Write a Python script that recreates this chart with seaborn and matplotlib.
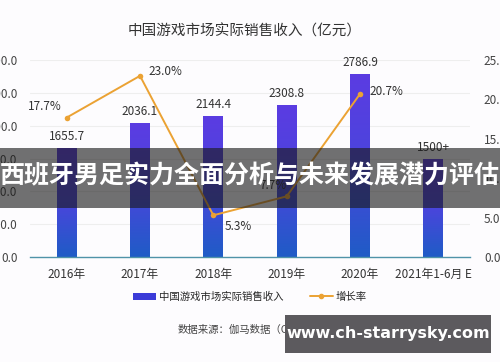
import numpy as np
import pandas as pd
import matplotlib
matplotlib.use("Agg")
import matplotlib.pyplot as plt
import seaborn as sns
from matplotlib.colors import LinearSegmentedColormap
from matplotlib.patches import Rectangle, Patch
from matplotlib.lines import Line2D

years = ["2016年", "2017年", "2018年", "2019年", "2020年", "2021年1-6月 E"]
revenue = [1655.7, 2036.1, 2144.4, 2308.8, 2786.9, 1490.0]
revenue_labels = ["1655.7", "2036.1", "2144.4", "2308.8", "2786.9", "1500+"]
growth_years = ["2016年", "2017年", "2018年", "2019年", "2020年"]
growth = [17.7, 23.0, 5.3, 7.7, 20.7]
growth_labels = ["17.7%", "23.0%", "5.3%", "7.7%", "20.7%"]
left_ticks = [0, 500, 1000, 1500, 2000, 2500, 3000]
right_ticks = [0, 5, 10, 15, 20, 25]

sns.set_style("white")
plt.rcParams["font.family"] = ["Noto Sans CJK SC", "DejaVu Sans"]

fig = plt.figure(figsize=(5, 3.62), dpi=100)
fig.patch.set_facecolor("#fdfcfe")
ax = fig.add_axes([0.06, 0.29, 0.88, 0.544])
ax.set_facecolor("none")

df = pd.DataFrame({"year": years, "revenue": revenue})
sns.barplot(data=df, x="year", y="revenue", ax=ax, width=0.27, color="#3b3bd8", zorder=2)

# gradient fill on bars: purple on top, blue at bottom
cmap = LinearSegmentedColormap.from_list("bar", ["#1f5cc6", "#4a45dc", "#5b3ce2"])
grad = np.linspace(0, 1, 256).reshape(-1, 1)
for p in ax.patches:
    x0, y0 = p.get_x(), p.get_y()
    w, h = p.get_width(), p.get_height()
    im = ax.imshow(grad, cmap=cmap, origin="lower", aspect="auto",
                   extent=[x0, x0 + w, y0, y0 + h], zorder=2)
    im.set_clip_path(p)
    p.set_facecolor("none")
    p.set_edgecolor("none")

for i, lab in enumerate(revenue_labels):
    ax.annotate(lab, (i, revenue[i]), xytext=(0, 4), textcoords="offset points",
                ha="center", va="bottom", fontsize=8.5, color="#333333")

ax.set_xlim(-0.5, 5.5)
ax.set_ylim(0, 3000)
ax.set_yticks(left_ticks)
ax.set_yticklabels([f"{v:.1f}" for v in left_ticks], fontsize=8.5, color="#444444")
ax.tick_params(axis="x", labelsize=8.5, colors="#333333", length=0, pad=8)
ax.tick_params(axis="y", length=0, pad=9)
ax.set_xlabel("")
ax.set_ylabel("")
ax.grid(axis="y", color="#eeeeee", linewidth=0.8, zorder=0)
for s in ["top", "right", "left"]:
    ax.spines[s].set_visible(False)
ax.spines["bottom"].set_color("#4f93a8")
ax.spines["bottom"].set_linewidth(1.0)

ax2 = ax.twinx()
gdf = pd.DataFrame({"x": np.arange(len(growth_years)), "growth": growth})
sns.lineplot(data=gdf, x="x", y="growth", ax=ax2, color="#eba233", linewidth=1.4,
             marker="o", markersize=4, markeredgewidth=0, zorder=3)
ax2.set_ylim(0, 25)
ax2.set_xlim(-0.5, 5.5)
ax2.set_yticks(right_ticks)
ax2.set_yticklabels([f"{v:.1f}%" for v in right_ticks], fontsize=8.5, color="#444444")
ax2.tick_params(axis="y", length=0, pad=10)
ax2.set_ylabel("")
ax2.set_xlabel("")
for s in ax2.spines.values():
    s.set_visible(False)

offsets = [(-16, 8), (6, 3), (8, -8), (-10, 8), (7, 2)]
aligns = ["center", "left", "left", "center", "left"]
for i, lab in enumerate(growth_labels):
    ax2.annotate(lab, (i, growth[i]), xytext=offsets[i], textcoords="offset points",
                 ha=aligns[i], va="center", fontsize=8.5, color="#333333")

fig.text(0.49, 0.912, "中国游戏市场实际销售收入（亿元）", ha="center", va="center",
         fontsize=10.5, color="#333333")

handles = [Patch(facecolor="#3b3bd8", edgecolor="none"),
           Line2D([0], [0], color="#eba233", linewidth=1.4, marker="o", markersize=3)]
fig.legend(handles, ["中国游戏市场实际销售收入", "增长率"], loc="center",
           bbox_to_anchor=(0.5, 0.18), ncol=2, frameon=False, fontsize=7.5,
           handlelength=2.2, handleheight=0.6, columnspacing=2.5, handletextpad=0.3)

fig.text(0.49, 0.088, "数据来源：伽马数据（CNG）", ha="center", va="center",
         fontsize=7.5, color="#444444")

# dark banner across the middle
fig.patches.append(Rectangle((0, 0.425), 1, 0.166, transform=fig.transFigure,
                             facecolor="#1a1a1a", alpha=0.62, edgecolor="none", zorder=10))
fig.text(0.5, 0.512, "西班牙男足实力全面分析与未来发展潜力评估", ha="center", va="center",
         fontsize=18, fontweight="bold", color="white", zorder=11)

# site watermark box bottom right
fig.patches.append(Rectangle((0.57, 0.025), 0.412, 0.105, transform=fig.transFigure,
                             facecolor="#5c5a5e", edgecolor="none", zorder=10))
fig.text(0.776, 0.08, "www.ch-starrysky.com", ha="center", va="center",
         fontsize=11.5, fontweight="bold", color="white", family=["DejaVu Sans"], zorder=11)

fig.savefig("out.png", dpi=100, facecolor=fig.get_facecolor())
